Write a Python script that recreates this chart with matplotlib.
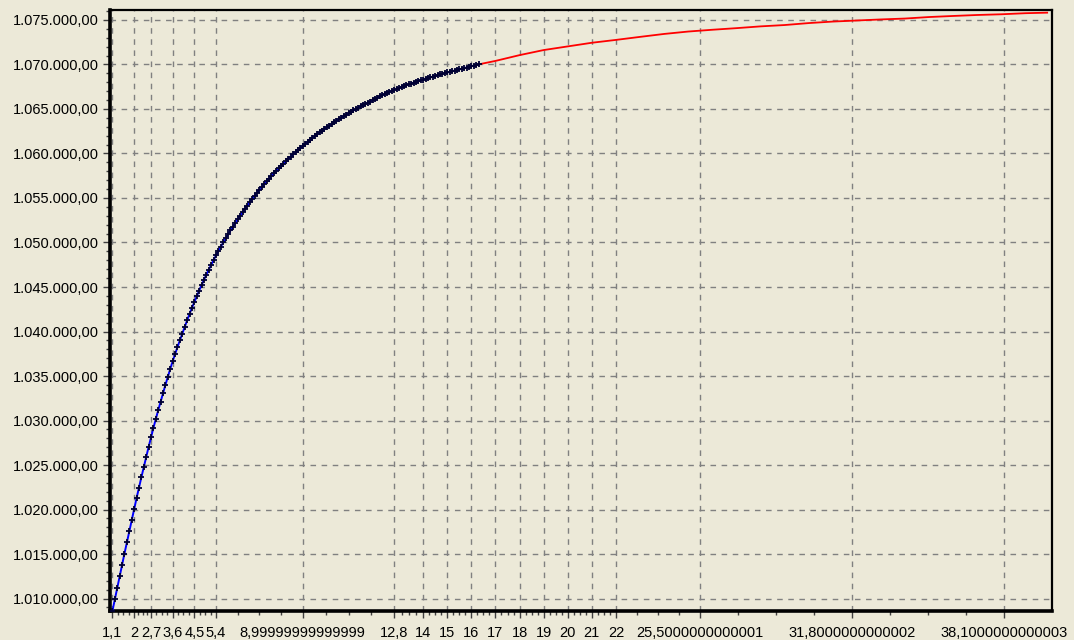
import numpy as np
import matplotlib
matplotlib.use("Agg")
import matplotlib.pyplot as plt
from matplotlib.ticker import FixedLocator, FuncFormatter, MultipleLocator

# ---- data ----
blue_x_start = 1.1
blue_x_step = 0.1
blue_values = [
    1008600, 1009900, 1011200, 1012500, 1013800, 1015050, 1016300, 1017550, 1018800,
    1020050, 1021250, 1022450, 1023600, 1024750, 1025900, 1027000, 1028100, 1029150, 1030150,
    1031150, 1032100, 1033050, 1034000, 1034900, 1035800, 1036650, 1037450, 1038250, 1039000,
    1039750, 1040500, 1041250, 1041950, 1042650, 1043300, 1043950, 1044600, 1045200, 1045800,
    1046400, 1046950, 1047500, 1048030, 1048550, 1049050, 1049530, 1050000, 1050460, 1050910,
    1051350, 1051770, 1052180, 1052590, 1053000, 1053400, 1053780, 1054150, 1054520, 1054890,
    1055250, 1055590, 1055920, 1056250, 1056570, 1056880, 1057180, 1057480, 1057770, 1058050,
    1058330, 1058600, 1058870, 1059140, 1059400, 1059650, 1059900, 1060140, 1060380, 1060620,
    1060850, 1061080, 1061300, 1061520, 1061740, 1061950, 1062160, 1062360, 1062560, 1062760,
    1062950, 1063140, 1063320, 1063500, 1063680, 1063850, 1064020, 1064190, 1064350, 1064510,
    1064680, 1064830, 1064980, 1065130, 1065280, 1065430, 1065570, 1065700, 1065840, 1065970,
    1066100, 1066250, 1066420, 1066560, 1066680, 1066800, 1066920, 1067040, 1067150, 1067260,
    1067370, 1067470, 1067570, 1067670, 1067770, 1067860, 1067950, 1068040, 1068130, 1068220,
    1068310, 1068390, 1068470, 1068560, 1068640, 1068720, 1068800, 1068880, 1068960, 1069030,
    1069100, 1069170, 1069240, 1069310, 1069380, 1069450, 1069520, 1069590, 1069660, 1069730,
    1069800, 1069870, 1069940, 1070010,
]
blue_x = [round(blue_x_start + i * blue_x_step, 1) for i in range(len(blue_values))]

red_x = [16.3, 17, 18, 19, 20, 21, 22, 23, 24, 25, 26, 27, 28, 29, 30, 31, 32, 33, 34,
         35, 36, 37, 38, 39, 39.9]
red_values = [1070010, 1070400, 1071050, 1071620, 1072030, 1072440, 1072760, 1073100,
              1073430, 1073700, 1073900, 1074080, 1074280, 1074430, 1074650, 1074820,
              1074940, 1075060, 1075160, 1075330, 1075450, 1075560, 1075640, 1075760,
              1075820]

x_tick_pos = [1.1, 2, 2.7, 3.6, 4.5, 5.4, 8.99999999999999, 12.8, 14, 15, 16, 17, 18, 19,
              20, 21, 22, 25.5000000000001, 31.8000000000002, 38.1000000000003]
x_tick_labels = ["1,1", "2", "2,7", "3,6", "4,5", "5,4", "8,99999999999999", "12,8", "14",
                 "15", "16", "17", "18", "19", "20", "21", "22", "25,5000000000001",
                 "31,8000000000002", "38,1000000000003"]
y_ticks = list(range(1010000, 1075001, 5000))

# ---- figure ----
bg = "#ECE9D8"
plt.rcParams["font.family"] = ["Liberation Sans", "DejaVu Sans"]
fig = plt.figure(figsize=(10.74, 6.40), dpi=100, facecolor=bg)
ax = fig.add_axes([110 / 1074, 1 - 611 / 640, (1051.5 - 110) / 1074, (611 - 10) / 640])
ax.set_facecolor(bg)

ax.plot(red_x, red_values, color="#FF0000", lw=1.3, zorder=3)
ax.plot(blue_x, blue_values, color="#0000FF", lw=1.4, marker="+", ms=5, mew=1.3,
        mec="#000033", zorder=4)

ax.set_xlim(1.0, 40.08)
ax.set_ylim(1008600, 1076120)

ax.xaxis.set_major_locator(FixedLocator(x_tick_pos))
ax.set_xticklabels(x_tick_labels)
minor = []
for a, b in zip(x_tick_pos[:-1], x_tick_pos[1:]):
    for k in range(1, 4):
        minor.append(a + (b - a) * k / 4)
ax.xaxis.set_minor_locator(FixedLocator(minor))

ax.yaxis.set_major_locator(FixedLocator(y_ticks))
ax.yaxis.set_minor_locator(MultipleLocator(1000))

def yfmt(v, pos):
    s = f"{v:,.2f}"
    return s.replace(",", "X").replace(".", ",").replace("X", ".")

ax.yaxis.set_major_formatter(FuncFormatter(yfmt))

ax.grid(True, which="major", color="#808080", linestyle=(0, (4, 4)), lw=1.0)
ax.tick_params(axis="x", which="major", direction="out", length=5, width=1,
               color="#404040", labelsize=10.5, labelcolor="black", pad=6)
ax.tick_params(axis="y", which="major", direction="out", length=5, width=1,
               color="#404040", labelsize=10.5, labelcolor="black", pad=3)
ax.tick_params(axis="both", which="minor", direction="out", length=3, width=1,
               color="#404040")

for side in ("left", "bottom"):
    ax.spines[side].set_linewidth(2.6)
for side in ("top", "right"):
    ax.spines[side].set_linewidth(1.6)
for s in ax.spines.values():
    s.set_color("black")

fig.savefig("out.png", dpi=100, facecolor=bg)
